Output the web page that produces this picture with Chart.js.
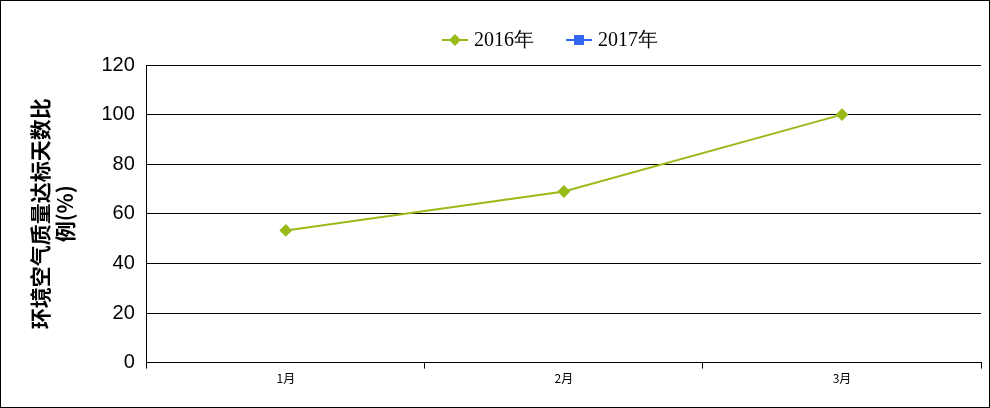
<!DOCTYPE html>
<html><head><meta charset="utf-8">
<script src="https://cdn.jsdelivr.net/npm/chart.js@4"></script>
<style>body{margin:0;background:#fff}#w{width:988px;height:406px;border:1px solid #000;position:relative}</style>
</head><body><div id="w"><canvas id="c"></canvas></div>
<script>
const categories=['1月','2月','3月'];
const series2016=[53.3,69,100];
const series2017=[null,null,null];
const yTicks=[0,20,40,60,80,100,120];
const legendPlugin={id:'lg',afterDraw(ch){
  const ctx=ch.ctx;ctx.save();
  const items=[{x:441,ds:ch.data.datasets[0],shape:'d'},{x:565,ds:ch.data.datasets[1],shape:'s'}];
  const y=39;
  items.forEach(it=>{
    ctx.strokeStyle=it.ds.borderColor;ctx.fillStyle=it.ds.borderColor;ctx.lineWidth=2;
    ctx.beginPath();ctx.moveTo(it.x,y);ctx.lineTo(it.x+26,y);ctx.stroke();
    const cx=it.x+13;ctx.beginPath();
    if(it.shape==='d'){ctx.moveTo(cx,y-6);ctx.lineTo(cx+6,y);ctx.lineTo(cx,y+6);ctx.lineTo(cx-6,y);ctx.closePath();}
    else ctx.rect(cx-5,y-5,10,10);
    ctx.fill();
    ctx.fillStyle='#000';ctx.font='20px "Liberation Serif"';ctx.textBaseline='middle';
    ctx.fillText(it.ds.label,it.x+32,y+1);
  });ctx.restore();}};
new Chart(document.getElementById('c'),{type:'line',
data:{labels:categories,datasets:[
{label:'2016年',data:series2016,borderColor:'#99BB1A',backgroundColor:'#99BB1A',pointStyle:'rectRot',pointRadius:5,borderWidth:2},
{label:'2017年',data:series2017,borderColor:'#3366EE',backgroundColor:'#3366EE',pointStyle:'rect',pointRadius:5,borderWidth:2}]},
plugins:[legendPlugin],
options:{responsive:true,maintainAspectRatio:false,animation:false,
layout:{padding:{left:22,right:8,top:64,bottom:18}},
plugins:{legend:{display:false},tooltip:{enabled:false}},
scales:{
x:{offset:true,grid:{offset:true,drawOnChartArea:false,color:'#000',tickLength:6},border:{color:'#000'},ticks:{color:'#000',font:{size:12,family:'Noto Sans CJK SC'}}},
y:{min:0,max:120,afterBuildTicks:a=>{a.ticks=yTicks.map(v=>({value:v}))},grid:{color:'#000',drawTicks:false},border:{color:'#000'},ticks:{color:'#000',padding:12,font:{size:20,family:'Liberation Sans'}},
title:{display:true,text:['环境空气质量达标天数比','例(%)'],color:'#000',font:{size:21,weight:'bold',family:'Noto Sans CJK SC'},lineHeight:1.1,padding:{bottom:12}}}
}}});
</script></body></html>
